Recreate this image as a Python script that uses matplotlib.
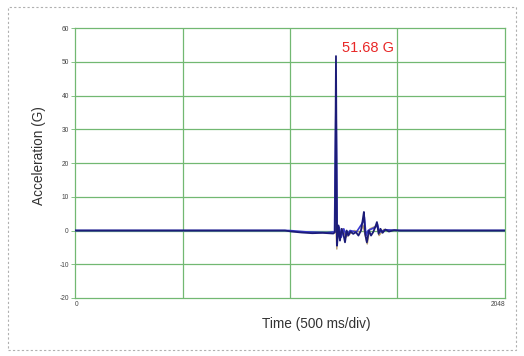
import matplotlib
matplotlib.use("Agg")
import matplotlib.pyplot as plt
from matplotlib.patches import Rectangle

# ---- data (samples 0..2048, acceleration in G) ----
t_main = [0, 1000, 1030, 1080, 1130, 1180, 1230, 1238, 1243, 1248, 1255, 1262, 1270, 1278,
          1286, 1294, 1302, 1312, 1325, 1338, 1350, 1362, 1370, 1376, 1382, 1390, 1400,
          1410, 1420, 1430, 1438, 1446, 1455, 1465, 1478, 1495, 1520, 1550, 2048]
v_main = [0, 0, -0.3, -0.6, -0.8, -0.7, -0.9, -0.5, 51.68, -4.5, 1.5, -3, 0.5, -1,
          -3.5, 0, -1.5, -0.3, -1, -0.5, -1.5, 0, 3, 5.5, -1, -3.5, 0,
          -1.5, -0.5, 1, 2.5, -1, 0.5, -0.7, 0.3, -0.3, 0.1, 0, 0]

t_second = [0, 1020, 1100, 1200, 1236, 1243, 1249, 1258, 1268, 1280, 1292, 1310, 1340,
            1372, 1378, 1386, 1396, 1432, 1440, 1450, 1480, 1540, 2048]
v_second = [0, 0, -0.4, -0.6, -0.4, 39, -2.5, 1, -2, 0.5, -1.5, 0, -0.5,
            2.5, 4, -1.5, 0, 1, 2, -0.5, 0.2, 0, 0]

t_third = [1238, 1241, 1247, 1252, 1262, 1275, 1290, 1330, 1360, 1372, 1380, 1392,
           1404, 1440, 1448, 1470, 1530]
v_third = [-0.6, 3, -5.5, 1, -2.5, 0.5, -2, 0, -0.5, 1.5, -1, -4, 0.5, 1.5, -1.5, 0.3, 0]

x_ticks = [0, 2048]
y_ticks = [-20, -10, 0, 10, 20, 30, 40, 50, 60]
peak_label = "51.68 G"

plt.rcParams['font.family'] = ['Liberation Sans', 'DejaVu Sans']

fig = plt.figure(figsize=(5.24, 3.56), dpi=100)
fig.patch.set_facecolor('white')

# outer dashed frame
fig.patches.append(Rectangle((8 / 524, 6 / 356), 508 / 524, 343 / 356, transform=fig.transFigure,
                             fill=False, edgecolor='#b0b0b0', linestyle=(0, (2, 2)), linewidth=0.8))

ax = fig.add_axes([75 / 524, 1 - 298 / 356, 430 / 524, 270 / 356])
ax.set_facecolor('white')

grid_c = '#72b872'
ax.set_xlim(0, 2048)
ax.set_ylim(-20, 60)
for xv in [512, 1024, 1536]:
    ax.axvline(xv, color=grid_c, lw=0.9, zorder=1)
for yv in y_ticks[1:-1]:
    ax.axhline(yv, color=grid_c, lw=0.9, zorder=1)
for s in ax.spines.values():
    s.set_color(grid_c)
    s.set_linewidth(0.9)

ax.plot(t_third, v_third, color='#b8a070', lw=1.0, zorder=2)
ax.plot(t_second, v_second, color='#3a3ad0', lw=1.2, zorder=3)
ax.plot(t_main, v_main, color='#1c1c78', lw=1.3, zorder=4)

ax.text(1272, 54.0, peak_label, color='#e82828', fontsize=10.5, va='center', ha='left')

ax.set_yticks(y_ticks)
ax.set_yticklabels([str(v) for v in y_ticks], fontsize=4.8, color='#444444')
ax.tick_params(axis='y', length=3, width=0.6, color=grid_c, pad=1.5)
ax.set_xticks(x_ticks)
ax.set_xticklabels([str(v) for v in x_ticks], fontsize=4.8, color='#444444')
ax.tick_params(axis='x', length=0, pad=2)
xl = ax.get_xticklabels()
xl[0].set_ha('left')
xl[1].set_ha('right')

fig.text(316 / 524, 1 - 324 / 356, 'Time (500 ms/div)', fontsize=9.8, color='#333333',
         ha='center', va='center')
fig.text(39 / 524, 1 - 156 / 356, 'Acceleration (G)', fontsize=9.8, color='#333333',
         ha='center', va='center', rotation=90)

fig.savefig('out.png', dpi=100)
